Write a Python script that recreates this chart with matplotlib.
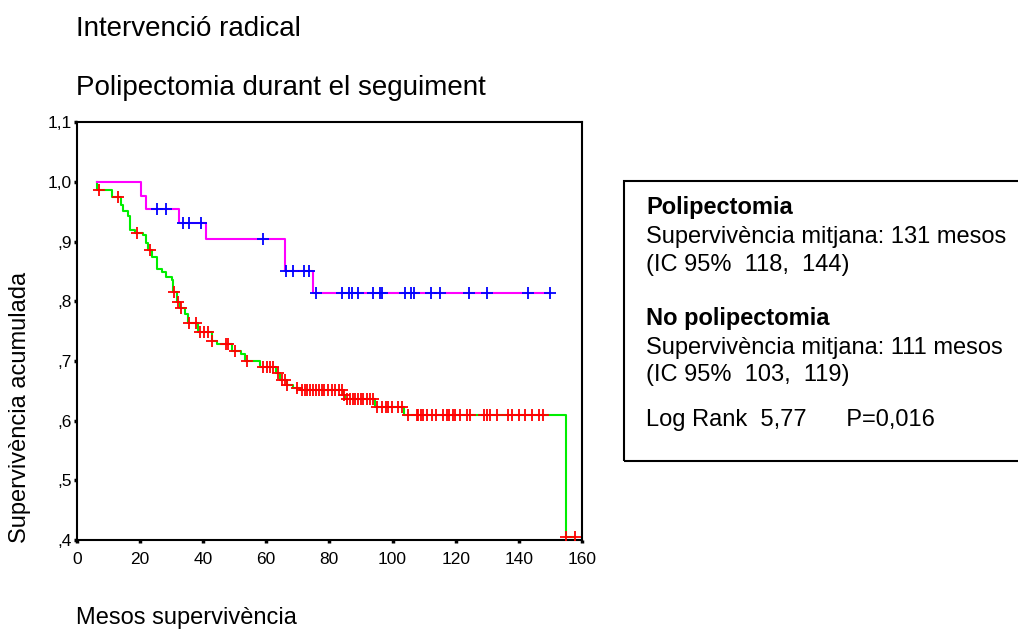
import numpy as np
import matplotlib
matplotlib.use("Agg")
import matplotlib.pyplot as plt
from matplotlib.patches import Rectangle

plt.rcParams['font.family'] = ['Liberation Sans', 'DejaVu Sans']

# Polipectomia durant el seguiment (magenta line, blue censors)
poli_start = 6.3
poli_event_t = [20.4, 21.9, 32.4, 40.8, 66.0, 74.9]
poli_event_s = [0.977, 0.954, 0.931, 0.905, 0.851, 0.814]
poli_cens = [25.3, 28.2, 33.8, 35.7, 39.3, 58.9, 66.2, 68.6, 72.1, 73.7,
             75.8, 84.1, 86.3, 87.3, 89.2, 93.9, 96.0, 96.8, 104.0, 105.9,
             106.9, 112.1, 115.0, 124.2, 129.8, 143.0, 149.9]

# No polipectomia (green line, red censors)
nopoli_start = 6.3
nopoli_event_t = [6.3, 11.3, 13.9, 14.8, 16.3, 16.9, 18.5, 21.1, 21.8, 22.7,
                  23.7, 25.3, 26.9, 28.2, 30.1, 30.6, 31.9, 32.7, 34.3, 35.3,
                  38.5, 42.7, 44.3, 49.1, 51.9, 53.3, 58.0, 63.1, 64.4, 66.5,
                  68.6, 70.7, 84.2, 85.0, 94.5, 103.7, 154.8]
nopoli_event_s = [0.987, 0.975, 0.961, 0.952, 0.943, 0.920, 0.915, 0.911, 0.897, 0.886,
                  0.874, 0.854, 0.849, 0.840, 0.836, 0.816, 0.799, 0.788, 0.779, 0.763,
                  0.749, 0.734, 0.728, 0.716, 0.712, 0.700, 0.690, 0.680, 0.668, 0.660,
                  0.654, 0.651, 0.643, 0.637, 0.623, 0.610, 0.405]
nopoli_cens = [7.2, 13.0, 19.0, 23.2, 30.9, 32.2, 33.0, 35.7, 37.8, 39.0,
               40.3, 41.7, 42.9, 47.2, 48.0, 50.1, 53.8, 59.1, 60.4, 61.2,
               62.3, 63.8, 64.9, 66.0, 66.7, 69.7, 71.2, 72.3, 73.0, 73.9,
               74.7, 75.7, 76.7, 77.6, 78.4, 79.5, 80.8, 81.8, 82.9, 83.9,
               84.5, 85.5, 86.5, 87.4, 88.2, 89.1, 89.9, 90.8, 91.8, 92.9,
               93.9, 95.0, 96.6, 97.9, 98.7, 99.7, 101.8, 102.9, 105.0, 107.7,
               108.2, 108.9, 109.6, 110.8, 112.4, 113.8, 116.1, 117.2, 117.9, 119.1,
               119.8, 121.4, 123.7, 124.5, 129.0, 129.8, 130.9, 133.0, 136.7, 137.7,
               140.2, 142.0, 144.1, 146.5, 147.8, 154.9, 157.8]

xticks = [0, 20, 40, 60, 80, 100, 120, 140, 160]
yticks = [0.4, 0.5, 0.6, 0.7, 0.8, 0.9, 1.0, 1.1]
ytick_labels = [',4', ',5', ',6', ',7', ',8', ',9', '1,0', '1,1']

legend_lines = [
    ('Polipectomia', 'bold'),
    ('Supervivència mitjana: 131 mesos', 'normal'),
    ('(IC 95%  118,  144)', 'normal'),
    ('No polipectomia', 'bold'),
    ('Supervivència mitjana: 111 mesos', 'normal'),
    ('(IC 95%  103,  119)', 'normal'),
    ('Log Rank  5,77      P=0,016', 'normal'),
]
legend_y = [208, 237, 265, 318, 348, 375, 420]


def km_steps(start, ev_t, ev_s, end):
    xs = [start] + list(ev_t) + [end]
    ys = [1.0] + list(ev_s) + [ev_s[-1]]
    return xs, ys


def surv_at(ev_t, ev_s, t):
    i = np.searchsorted(ev_t, t, side='right') - 1
    return 1.0 if i < 0 else ev_s[i]


W, H = 1018, 630
fig = plt.figure(figsize=(W / 100, H / 100), dpi=100)
ax = fig.add_axes([76.7 / W, 1 - 540 / H, (582 - 76.7) / W, (540 - 122.3) / H])

xs, ys = km_steps(nopoli_start, nopoli_event_t, nopoli_event_s, max(nopoli_cens))
ax.step(xs, ys, where='post', color='#00ee00', lw=1.5, zorder=2)
ax.plot(nopoli_cens, [surv_at(nopoli_event_t, nopoli_event_s, t) for t in nopoli_cens],
        ls='none', marker='+', ms=8.5, mew=1.3, color='#ff0000', zorder=3)

xs, ys = km_steps(poli_start, poli_event_t, poli_event_s, max(poli_cens))
ax.step(xs, ys, where='post', color='#ff00ff', lw=1.5, zorder=2)
ax.plot(poli_cens, [surv_at(poli_event_t, poli_event_s, t) for t in poli_cens],
        ls='none', marker='+', ms=9, mew=1.3, color='#0000ff', zorder=3)

ax.set_xlim(0, 160)
ax.set_ylim(0.4, 1.1)
ax.set_xticks(xticks)
ax.set_yticks(yticks)
ax.set_yticklabels(ytick_labels)
ax.tick_params(length=2.5, width=2.5, labelsize=12.5, color='black')
ax.tick_params(axis='x', pad=6)
ax.tick_params(axis='y', pad=1)
for s in ax.spines.values():
    s.set_linewidth(1.5)

fig.text(76 / W, 1 - 29 / H, 'Intervenció radical', fontsize=20, va='center', ha='left')
fig.text(76 / W, 1 - 88 / H, 'Polipectomia durant el seguiment', fontsize=20, va='center', ha='left')
fig.text(76 / W, 1 - 618 / H, 'Mesos supervivència', fontsize=17, va='center', ha='left')
fig.text(20 / W, 1 - 407 / H, 'Supervivència acumulada', fontsize=17, va='center', ha='center',
         rotation=90)

# caixa de la llegenda (talla per la dreta)
fig.patches.append(Rectangle((624 / W, 1 - 461 / H), (W + 10 - 624) / W, (461 - 181) / H,
                             transform=fig.transFigure, fill=False, lw=1.5, ec='black'))
for (txt, wt), y in zip(legend_lines, legend_y):
    fig.text(646 / W, 1 - y / H, txt, fontsize=17, fontweight=wt, va='center', ha='left')

fig.savefig('out.png', dpi=100)
